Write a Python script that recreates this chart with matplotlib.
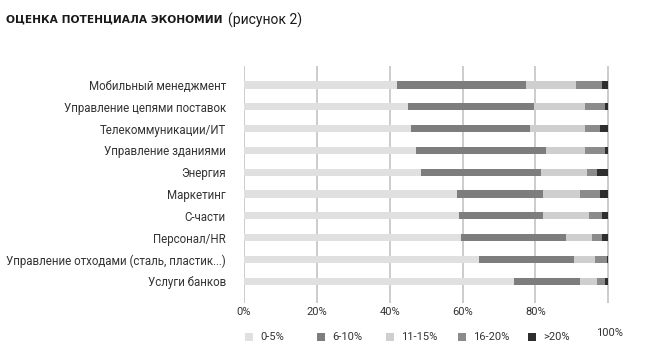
import matplotlib
matplotlib.use("Agg")
from matplotlib import pyplot as plt
from matplotlib.patches import Rectangle
import numpy as np

categories = ["Мобильный менеджмент",
              "Управление цепями поставок",
              "Телекоммуникации/ИТ",
              "Управление зданиями",
              "Энергия",
              "Маркетинг",
              "С-части",
              "Персонал/HR",
              "Управление отходами (сталь, пластик...)",
              "Услуги банков"]

series_names = ["0-5%", "6-10%", "11-15%", "16-20%", ">20%"]

# shares per category, percent
s_0_5 = [42.0, 45.0, 45.8, 47.1, 48.6, 58.5, 59.0, 59.7, 64.6, 74.1]
s_6_10 = [35.3, 34.5, 32.7, 35.8, 33.0, 23.7, 23.2, 28.8, 26.0, 18.1]
s_11_15 = [13.8, 14.2, 15.2, 10.8, 12.5, 10.0, 12.4, 7.0, 5.8, 4.7]
s_16_20 = [7.1, 5.4, 3.9, 5.4, 2.7, 5.4, 3.6, 2.7, 3.2, 2.3]
s_20 = [1.8, 0.9, 2.4, 0.9, 3.2, 2.4, 1.8, 1.8, 0.4, 0.8]

xticks = [0, 20, 40, 60, 80, 100]
xtick_labels = ["0%", "20%", "40%", "60%", "80%", "100%"]

colors = ["#e0e0e0", "#7d7d7d", "#cfcfcf", "#8b8b8b", "#2e2e2e"]
txt = "#333333"

plt.rcParams['font.family'] = ['Roboto', 'DejaVu Sans']

fig = plt.figure(figsize=(6.5, 3.58), dpi=100)
ax = fig.add_axes([244 / 650, 1 - 303 / 358, 365 / 650, 237 / 358])

y = np.arange(len(categories))
left = np.zeros(len(categories))
for name, vals, c in zip(series_names,
                         [s_0_5, s_6_10, s_11_15, s_16_20, s_20], colors):
    ax.barh(y, vals, left=left, height=0.33, color=c, label=name, zorder=2)
    left += np.array(vals)

ax.set_xlim(0, 100.2)
ax.set_ylim(len(categories) - 1 + 1.0, -0.87)
for xv in xticks:
    ax.axvline(xv, color="#c8c8c8", lw=1.3, zorder=1)

ax.set_yticks(y)
ax.set_yticklabels(categories, fontsize=8.3, color=txt)
ax.set_xticks(xticks[:-1])
ax.set_xticklabels(xtick_labels[:-1], fontsize=8, color=txt)
ax.tick_params(axis="y", length=0, pad=13)
ax.tick_params(axis="x", length=0, pad=3)
for sp in ax.spines.values():
    sp.set_visible(False)

# last tick label sits lower, on the legend row
ax.text(100.3, -0.127, xtick_labels[-1], transform=ax.get_xaxis_transform(),
        fontsize=8, color=txt, ha="center", va="center")

# legend row drawn by hand to match the spacing of the original
leg_x = [245, 317, 386, 458, 528]
for lx, name, c in zip(leg_x, series_names, colors):
    fig.patches.append(Rectangle((lx / 650, 1 - 341 / 358), 8 / 650, 8 / 358,
                                 transform=fig.transFigure, facecolor=c,
                                 edgecolor="none"))
    fig.text((lx + 15) / 650, 1 - 337 / 358, name, fontsize=8, color=txt,
             va="center")

fig.text(6 / 650, 1 - 20 / 358, "ОЦЕНКА ПОТЕНЦИАЛА ЭКОНОМИИ",
         fontsize=7.7, fontweight="bold", family="DejaVu Sans",
         color="#1a1a1a", va="center")
fig.text(228 / 650, 1 - 20 / 358, "(рисунок 2)",
         fontsize=10, color="#1a1a1a", va="center")

fig.savefig("out.png", dpi=100)
